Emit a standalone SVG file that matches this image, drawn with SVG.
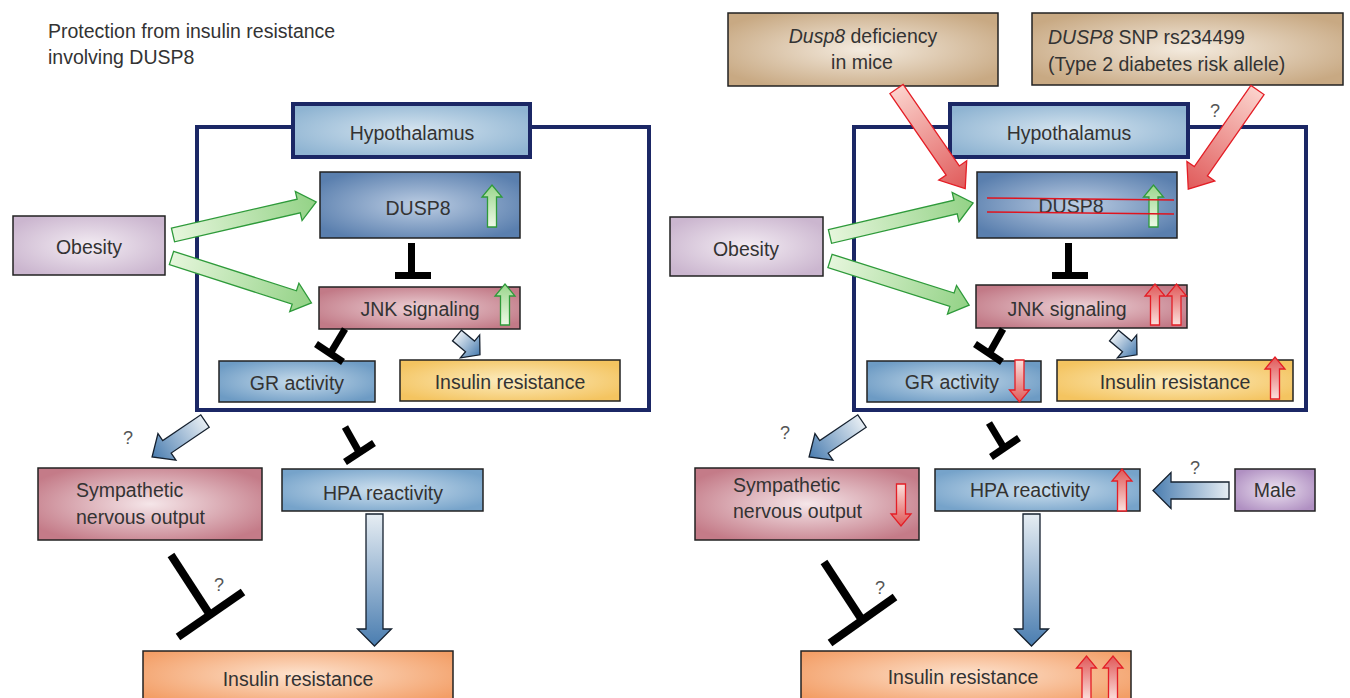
<svg xmlns="http://www.w3.org/2000/svg" width="1350" height="698" viewBox="0 0 1350 698">
<defs>
<radialGradient id="gHyp" cx="0.5" cy="0.5" r="0.6"><stop offset="0" stop-color="#d6e5f0"/><stop offset="1" stop-color="#8fb4d2"/></radialGradient>
<radialGradient id="gDusp" cx="0.5" cy="0.5" r="0.6"><stop offset="0" stop-color="#bccde3"/><stop offset="1" stop-color="#5a7fae"/></radialGradient>
<radialGradient id="gObe" cx="0.5" cy="0.5" r="0.6"><stop offset="0" stop-color="#f3ecf3"/><stop offset="1" stop-color="#cbb6cf"/></radialGradient>
<radialGradient id="gJnk" cx="0.5" cy="0.5" r="0.6"><stop offset="0" stop-color="#ecd0d5"/><stop offset="1" stop-color="#c27a87"/></radialGradient>
<radialGradient id="gGr" cx="0.5" cy="0.5" r="0.6"><stop offset="0" stop-color="#c6dbeb"/><stop offset="1" stop-color="#6d9bc4"/></radialGradient>
<radialGradient id="gYel" cx="0.5" cy="0.5" r="0.6"><stop offset="0" stop-color="#fcecbf"/><stop offset="1" stop-color="#f4c460"/></radialGradient>
<radialGradient id="gSym" cx="0.5" cy="0.5" r="0.6"><stop offset="0" stop-color="#f5e6e9"/><stop offset="1" stop-color="#c47b88"/></radialGradient>
<radialGradient id="gHpa" cx="0.5" cy="0.5" r="0.6"><stop offset="0" stop-color="#cfe1ef"/><stop offset="1" stop-color="#76a3ca"/></radialGradient>
<radialGradient id="gOra" cx="0.5" cy="0.4" r="0.6"><stop offset="0" stop-color="#fde3cf"/><stop offset="1" stop-color="#f39e66"/></radialGradient>
<radialGradient id="gTan" cx="0.5" cy="0.5" r="0.6"><stop offset="0" stop-color="#f4ebdf"/><stop offset="1" stop-color="#c8a983"/></radialGradient>
<radialGradient id="gMale" cx="0.5" cy="0.5" r="0.6"><stop offset="0" stop-color="#ede3f1"/><stop offset="1" stop-color="#b090c2"/></radialGradient>
<linearGradient id="aGreen" x1="0" y1="0" x2="1" y2="0"><stop offset="0" stop-color="#e6f6dc"/><stop offset="1" stop-color="#93d286"/></linearGradient>
<linearGradient id="aBlue" x1="0" y1="0" x2="1" y2="0"><stop offset="0" stop-color="#e6edf3"/><stop offset="1" stop-color="#4a7db0"/></linearGradient>
<linearGradient id="aRed" x1="0" y1="0" x2="1" y2="0"><stop offset="0" stop-color="#fbd2cc"/><stop offset="1" stop-color="#e05a5a"/></linearGradient>
<linearGradient id="sGreenUp" x1="0" y1="1" x2="0" y2="0"><stop offset="0" stop-color="#eef9e6"/><stop offset="1" stop-color="#9ad68c"/></linearGradient>
<linearGradient id="sRedUp" x1="0" y1="1" x2="0" y2="0"><stop offset="0" stop-color="#fbe0dc"/><stop offset="1" stop-color="#e05858"/></linearGradient>
<linearGradient id="sRedDown" x1="0" y1="0" x2="0" y2="1"><stop offset="0" stop-color="#fbe0dc"/><stop offset="1" stop-color="#e05858"/></linearGradient>
</defs>
<style>
text{font-family:"Liberation Sans",Arial,sans-serif;font-size:19.5px;fill:#333}
.c{text-anchor:middle}
.q{font-size:18px;fill:#555}
.box{stroke:#222;stroke-width:1.5}
.navy{fill:none;stroke:#1b2765;stroke-width:4}
.hyp{fill:url(#gHyp);stroke:#1b2765;stroke-width:4}
.ga{fill:url(#aGreen);stroke:#2e9a3a;stroke-width:1.3}
.ba{fill:url(#aBlue);stroke:#15202e;stroke-width:1.3}
.ra{fill:url(#aRed);stroke:#e41e26;stroke-width:1.3}
.sg{fill:url(#sGreenUp);stroke:#2e9a3a;stroke-width:1.3}
.sru{fill:url(#sRedUp);stroke:#e41e26;stroke-width:1.3}
.srd{fill:url(#sRedDown);stroke:#e41e26;stroke-width:1.3}
.tb{stroke:#000;stroke-width:7;fill:none}
.tb2{stroke:#000;stroke-width:8;fill:none}
.strike{stroke:#e0141e;stroke-width:1.5}
</style>

<text x="48" y="38">Protection from insulin resistance</text>
<text x="48" y="64">involving DUSP8</text>

<!-- LEFT PANEL -->
<g id="hypothalamus-left">
<rect x="197" y="127" width="452" height="283" class="navy"/>
<rect x="293" y="104" width="237" height="53" class="hyp"/>
<text class="c" x="412" y="140">Hypothalamus</text>
</g>
<g id="dusp8-left">
<rect x="320" y="172" width="200" height="66" class="box" fill="url(#gDusp)"/>
<text class="c" x="418" y="215">DUSP8</text>
<polygon class="sg" points="487.5,227 487.5,197 482,197 492,185 502,197 496.5,197 496.5,227"/>
</g>
<g id="obesity-left">
<rect x="13" y="216" width="152" height="59" class="box" fill="url(#gObe)"/>
<text class="c" x="89" y="254">Obesity</text>
</g>
<g id="jnk-left">
<rect x="319" y="287" width="201" height="42" class="box" fill="url(#gJnk)"/>
<text class="c" x="420" y="316">JNK signaling</text>
<polygon class="sg" points="500.5,325 500.5,296 495,296 505,284 515,296 509.5,296 509.5,325"/>
</g>
<g id="gr-left">
<rect x="219" y="361" width="156" height="41" class="box" fill="url(#gGr)"/>
<text class="c" x="297" y="390">GR activity</text>
</g>
<g id="ir-hyp-left">
<rect x="400" y="360" width="220" height="41" class="box" fill="url(#gYel)"/>
<text class="c" x="510" y="389">Insulin resistance</text>
</g>
<g id="sympathetic-left">
<rect x="38" y="468" width="224" height="72" class="box" fill="url(#gSym)"/>
<text x="76" y="497">Sympathetic</text>
<text x="76" y="524">nervous output</text>
</g>
<g id="hpa-left">
<rect x="282" y="469" width="201" height="42" class="box" fill="url(#gHpa)"/>
<text class="c" x="383" y="500">HPA reactivity</text>
</g>
<g id="ir-left">
<rect x="143" y="651" width="310" height="60" class="box" fill="url(#gOra)"/>
<text class="c" x="298" y="686">Insulin resistance</text>
</g>

<!-- RIGHT PANEL -->
<g id="dusp8-deficiency">
<rect x="728" y="13" width="270" height="73" class="box" fill="url(#gTan)"/>
<text class="c" x="863" y="43"><tspan font-style="italic">Dusp8</tspan> deficiency</text>
<text class="c" x="862" y="69">in mice</text>
</g>
<g id="snp">
<rect x="1032" y="13" width="311" height="72" class="box" fill="url(#gTan)"/>
<text x="1048" y="44"><tspan font-style="italic">DUSP8</tspan> SNP rs234499</text>
<text x="1048" y="71">(Type 2 diabetes risk allele)</text>
</g>
<g id="hypothalamus-right">
<rect x="854" y="127" width="452" height="283" class="navy"/>
<rect x="950" y="104" width="238" height="53" class="hyp"/>
<text class="c" x="1069" y="140">Hypothalamus</text>
<text class="q c" x="1215" y="117">?</text>
</g>
<g id="dusp8-right">
<rect x="977" y="172" width="200" height="66" class="box" fill="url(#gDusp)"/>
<text class="c" x="1071" y="213">DUSP8</text>
<polygon class="sg" points="1149,227 1149,197 1143.5,197 1153.5,185 1163.5,197 1158,197 1158,227"/>
<line class="strike" x1="987" y1="198" x2="1174" y2="200"/>
<line class="strike" x1="987" y1="212" x2="1174" y2="214"/>
</g>
<g id="obesity-right">
<rect x="670" y="217" width="153" height="59" class="box" fill="url(#gObe)"/>
<text class="c" x="746" y="256">Obesity</text>
</g>
<g id="jnk-right">
<rect x="976" y="285" width="211" height="43" class="box" fill="url(#gJnk)"/>
<text class="c" x="1067" y="316">JNK signaling</text>
<polygon class="sru" points="1150.5,325 1150.5,296 1145,296 1155,284 1165,296 1159.5,296 1159.5,325"/>
<polygon class="sru" points="1172,325 1172,296 1166.5,296 1176.5,284 1186.5,296 1181,296 1181,325"/>
</g>
<g id="gr-right">
<rect x="867" y="361" width="174" height="41" class="box" fill="url(#gGr)"/>
<text class="c" x="952" y="389">GR activity</text>
<polygon class="srd" points="1015,360 1024,360 1024,390 1029.5,390 1019.5,402 1009.5,390 1015,390"/>
</g>
<g id="ir-hyp-right">
<rect x="1057" y="360" width="236" height="41" class="box" fill="url(#gYel)"/>
<text class="c" x="1175" y="389">Insulin resistance</text>
<polygon class="sru" points="1270.5,399 1270.5,369 1265,369 1275,357 1285,369 1279.5,369 1279.5,399"/>
</g>
<g id="sympathetic-right">
<rect x="695" y="468" width="224" height="72" class="box" fill="url(#gSym)"/>
<text x="733" y="492">Sympathetic</text>
<text x="733" y="518">nervous output</text>
<polygon class="srd" points="896.5,484 905.5,484 905.5,514 911,514 901,526 891,514 896.5,514"/>
</g>
<g id="hpa-right">
<rect x="935" y="469" width="205" height="42" class="box" fill="url(#gHpa)"/>
<text class="c" x="1030" y="497">HPA reactivity</text>
<polygon class="sru" points="1117.5,511 1117.5,481 1112,481 1122,469 1132,481 1126.5,481 1126.5,511"/>
</g>
<g id="male">
<rect x="1235" y="469" width="80" height="42" class="box" fill="url(#gMale)"/>
<text class="c" x="1275" y="497">Male</text>
</g>
<g id="ir-right">
<rect x="801" y="651" width="330" height="60" class="box" fill="url(#gOra)"/>
<text class="c" x="963" y="684">Insulin resistance</text>
<polygon class="sru" points="1082,700 1082,668 1076.5,668 1086.5,656 1096.5,668 1091,668 1091,700"/>
<polygon class="sru" points="1108.5,700 1108.5,668 1103,668 1113,656 1123,668 1117.5,668 1117.5,700"/>
</g>

<g id="connectors">
<!-- left -->
<polygon class="ga" transform="translate(173,235) rotate(-13)" points="0,-7 129,-7 129,-15 147,0 129,15 129,7 0,7"/>
<polygon class="ga" transform="translate(171.5,258) rotate(17.8)" points="0,-7 129,-7 129,-15 147,0 129,15 129,7 0,7"/>
<line class="tb" x1="411.5" y1="243" x2="411.5" y2="275.5"/>
<line class="tb" x1="395" y1="275.5" x2="431" y2="275.5"/>
<line class="tb" x1="345" y1="329" x2="330" y2="354"/>
<line class="tb" x1="316" y1="344" x2="343" y2="362"/>
<polygon class="ba" transform="translate(457,335.5) rotate(40)" points="0,-7 17,-7 17,-15 30,0 17,15 17,7 0,7"/>
<polygon class="ba" transform="translate(205,421) rotate(145.8)" points="0,-7.5 46,-7.5 46,-16 64,0 46,16 46,7.5 0,7.5"/>
<text class="q c" x="128" y="444">?</text>
<line class="tb" x1="345" y1="427" x2="359" y2="452"/>
<line class="tb" x1="345" y1="462" x2="374" y2="443"/>
<line class="tb2" x1="171" y1="555" x2="210" y2="615"/>
<line class="tb2" x1="178" y1="637" x2="243" y2="592"/>
<text class="q c" x="219" y="591">?</text>
<polygon class="ba" transform="translate(374.5,514) rotate(90)" points="0,-8.5 115,-8.5 115,-17 132,0 115,17 115,8.5 0,8.5"/>
<!-- right -->
<polygon class="ra" transform="translate(896.5,89) rotate(55.4)" points="0,-8 99,-8 99,-17 121,0 99,17 99,8 0,8"/>
<polygon class="ra" transform="translate(1257.5,90) rotate(124.9)" points="0,-8 99,-8 99,-17 121,0 99,17 99,8 0,8"/>
<polygon class="ga" transform="translate(830,236.5) rotate(-13.2)" points="0,-7 129,-7 129,-15 147,0 129,15 129,7 0,7"/>
<polygon class="ga" transform="translate(830,261) rotate(17.6)" points="0,-7 128,-7 128,-15 146,0 128,15 128,7 0,7"/>
<line class="tb" x1="1068.5" y1="243" x2="1068.5" y2="275.5"/>
<line class="tb" x1="1052" y1="275.5" x2="1088" y2="275.5"/>
<line class="tb" x1="1003" y1="329" x2="989" y2="354"/>
<line class="tb" x1="975" y1="344" x2="1002" y2="362"/>
<polygon class="ba" transform="translate(1114,335.5) rotate(40)" points="0,-7 17,-7 17,-15 30,0 17,15 17,7 0,7"/>
<polygon class="ba" transform="translate(862,421) rotate(145.8)" points="0,-7.5 46,-7.5 46,-16 64,0 46,16 46,7.5 0,7.5"/>
<text class="q c" x="785" y="439">?</text>
<line class="tb" x1="989" y1="423" x2="1004" y2="448"/>
<line class="tb" x1="991" y1="457" x2="1019" y2="438"/>
<line class="tb2" x1="824" y1="562" x2="862" y2="620"/>
<line class="tb2" x1="830" y1="643" x2="895" y2="597"/>
<text class="q c" x="880" y="594">?</text>
<polygon class="ba" transform="translate(1031.5,514) rotate(90)" points="0,-8.5 115,-8.5 115,-17 132,0 115,17 115,8.5 0,8.5"/>
<polygon class="ba" transform="translate(1229,490.5) rotate(180)" points="0,-8.5 58,-8.5 58,-18 76,0 58,18 58,8.5 0,8.5"/>
<text class="q c" x="1195" y="474">?</text>
</g>
</svg>
